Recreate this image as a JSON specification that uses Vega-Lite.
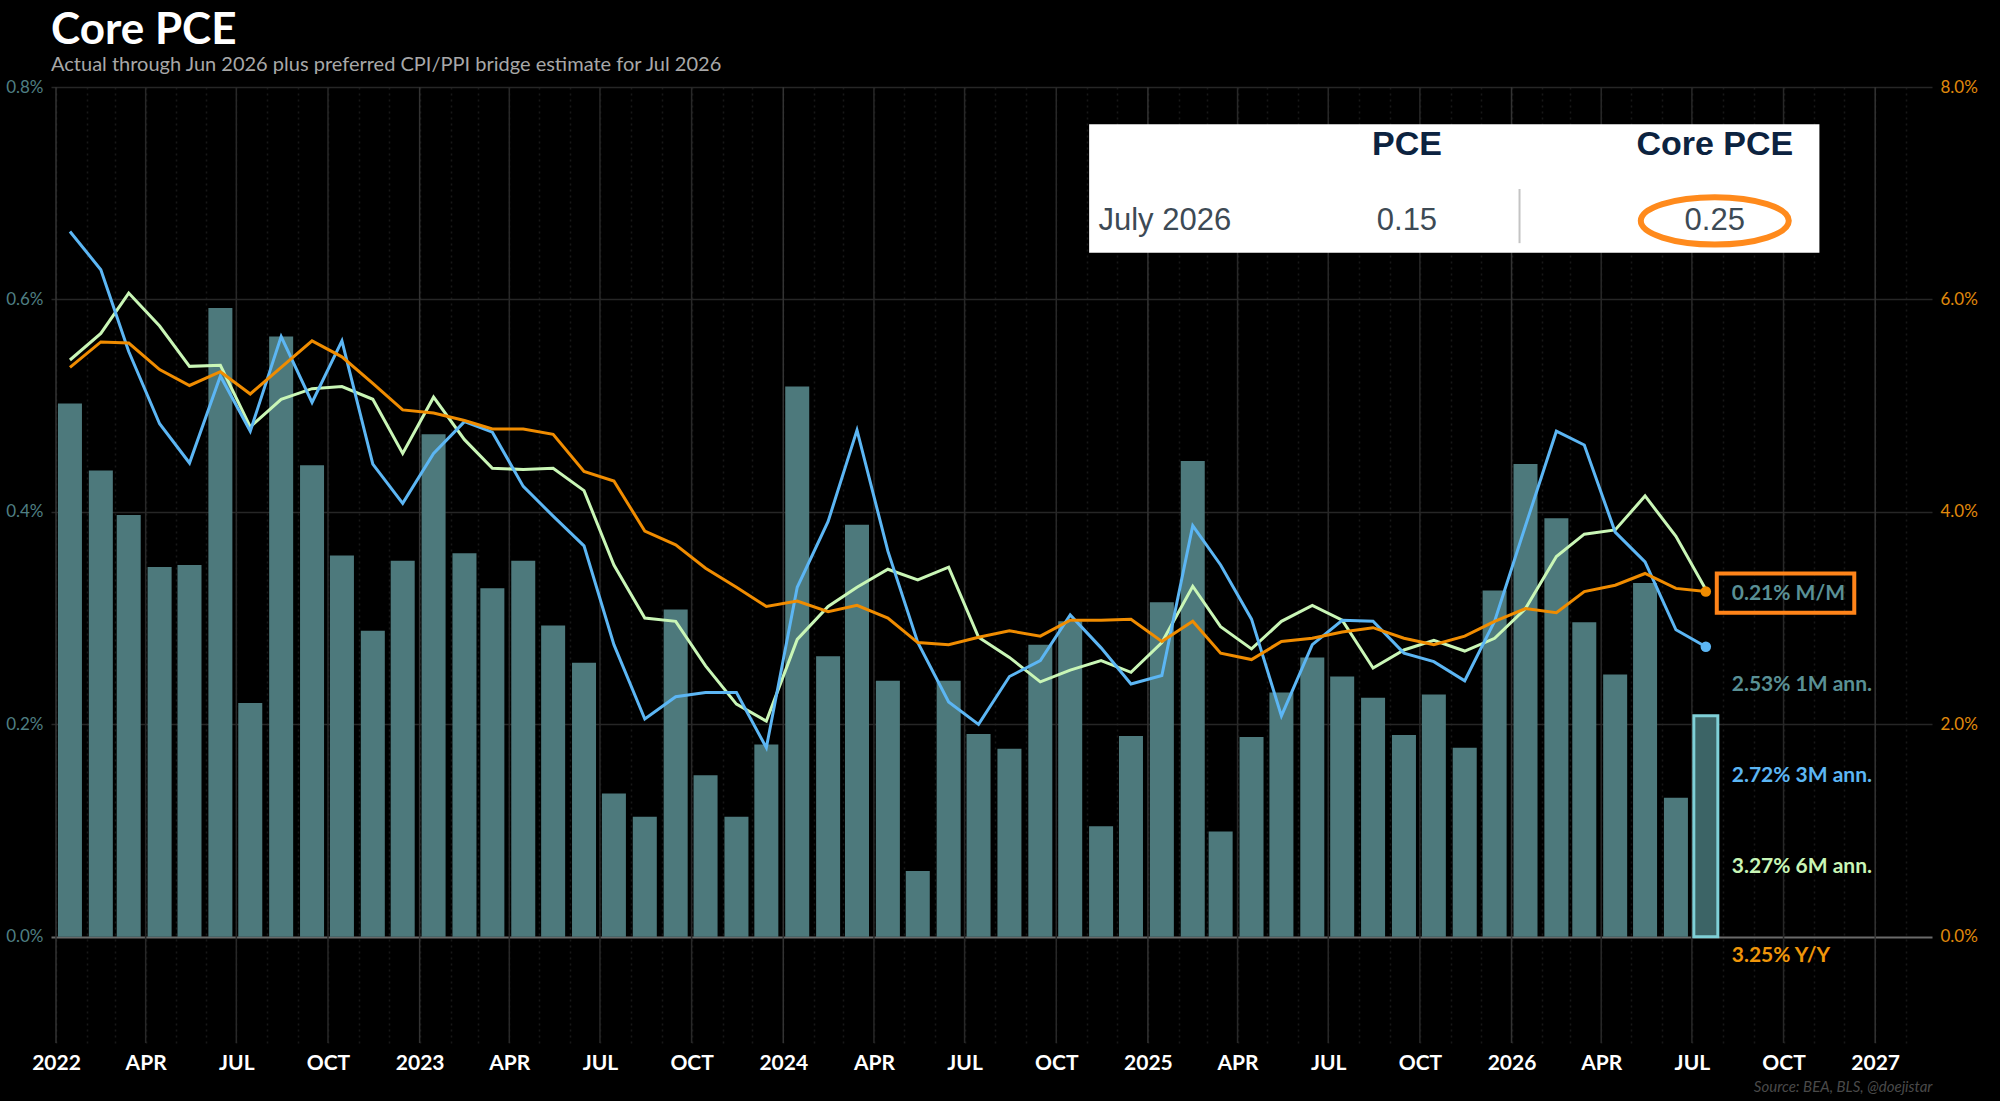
{
  "$schema": "https://vega.github.io/schema/vega-lite/v6.json",
  "width": 1881,
  "height": 956,
  "autosize": {"type": "none"},
  "padding": {"left": 51, "top": 87, "right": 68, "bottom": 58},
  "background": "#000000",
  "title": {
    "text": "Core PCE",
    "subtitle": "Actual through Jun 2026 plus preferred CPI/PPI bridge estimate for Jul 2026",
    "anchor": "start",
    "frame": "group",
    "font": "Lato",
    "fontSize": 44,
    "fontWeight": "bold",
    "color": "#ffffff",
    "subtitleFont": "Lato",
    "subtitleFontSize": 20,
    "subtitleColor": "#a8a8a8",
    "subtitlePadding": 2,
    "offset": 3
  },
  "datasets": {
    "pce": [
      {"d": "2022-01-15", "bar": 0.502, "m3": 6.64, "m6": 5.43, "yoy": 5.36, "type": "act"},
      {"d": "2022-02-15", "bar": 0.439, "m3": 6.28, "m6": 5.68, "yoy": 5.60, "type": "act"},
      {"d": "2022-03-15", "bar": 0.397, "m3": 5.51, "m6": 6.06, "yoy": 5.59, "type": "act"},
      {"d": "2022-04-15", "bar": 0.348, "m3": 4.83, "m6": 5.75, "yoy": 5.34, "type": "act"},
      {"d": "2022-05-15", "bar": 0.350, "m3": 4.46, "m6": 5.37, "yoy": 5.19, "type": "act"},
      {"d": "2022-06-15", "bar": 0.592, "m3": 5.28, "m6": 5.38, "yoy": 5.32, "type": "act"},
      {"d": "2022-07-15", "bar": 0.220, "m3": 4.76, "m6": 4.80, "yoy": 5.11, "type": "act"},
      {"d": "2022-08-15", "bar": 0.565, "m3": 5.65, "m6": 5.06, "yoy": 5.36, "type": "act"},
      {"d": "2022-09-15", "bar": 0.444, "m3": 5.03, "m6": 5.16, "yoy": 5.61, "type": "act"},
      {"d": "2022-10-15", "bar": 0.359, "m3": 5.61, "m6": 5.18, "yoy": 5.46, "type": "act"},
      {"d": "2022-11-15", "bar": 0.288, "m3": 4.45, "m6": 5.06, "yoy": 5.21, "type": "act"},
      {"d": "2022-12-15", "bar": 0.354, "m3": 4.08, "m6": 4.55, "yoy": 4.96, "type": "act"},
      {"d": "2023-01-15", "bar": 0.473, "m3": 4.55, "m6": 5.08, "yoy": 4.93, "type": "act"},
      {"d": "2023-02-15", "bar": 0.361, "m3": 4.85, "m6": 4.68, "yoy": 4.86, "type": "act"},
      {"d": "2023-03-15", "bar": 0.328, "m3": 4.75, "m6": 4.41, "yoy": 4.78, "type": "act"},
      {"d": "2023-04-15", "bar": 0.354, "m3": 4.24, "m6": 4.40, "yoy": 4.78, "type": "act"},
      {"d": "2023-05-15", "bar": 0.293, "m3": 3.96, "m6": 4.41, "yoy": 4.73, "type": "act"},
      {"d": "2023-06-15", "bar": 0.258, "m3": 3.68, "m6": 4.20, "yoy": 4.38, "type": "act"},
      {"d": "2023-07-15", "bar": 0.135, "m3": 2.75, "m6": 3.50, "yoy": 4.29, "type": "act"},
      {"d": "2023-08-15", "bar": 0.113, "m3": 2.05, "m6": 3.00, "yoy": 3.82, "type": "act"},
      {"d": "2023-09-15", "bar": 0.308, "m3": 2.26, "m6": 2.97, "yoy": 3.69, "type": "act"},
      {"d": "2023-10-15", "bar": 0.152, "m3": 2.30, "m6": 2.55, "yoy": 3.47, "type": "act"},
      {"d": "2023-11-15", "bar": 0.113, "m3": 2.30, "m6": 2.19, "yoy": 3.29, "type": "act"},
      {"d": "2023-12-15", "bar": 0.181, "m3": 1.78, "m6": 2.03, "yoy": 3.11, "type": "act"},
      {"d": "2024-01-15", "bar": 0.518, "m3": 3.29, "m6": 2.80, "yoy": 3.16, "type": "act"},
      {"d": "2024-02-15", "bar": 0.264, "m3": 3.91, "m6": 3.11, "yoy": 3.06, "type": "act"},
      {"d": "2024-03-15", "bar": 0.388, "m3": 4.77, "m6": 3.29, "yoy": 3.12, "type": "act"},
      {"d": "2024-04-15", "bar": 0.241, "m3": 3.63, "m6": 3.46, "yoy": 3.00, "type": "act"},
      {"d": "2024-05-15", "bar": 0.062, "m3": 2.77, "m6": 3.36, "yoy": 2.77, "type": "act"},
      {"d": "2024-06-15", "bar": 0.241, "m3": 2.21, "m6": 3.48, "yoy": 2.75, "type": "act"},
      {"d": "2024-07-15", "bar": 0.191, "m3": 2.00, "m6": 2.82, "yoy": 2.82, "type": "act"},
      {"d": "2024-08-15", "bar": 0.177, "m3": 2.45, "m6": 2.63, "yoy": 2.88, "type": "act"},
      {"d": "2024-09-15", "bar": 0.275, "m3": 2.60, "m6": 2.40, "yoy": 2.83, "type": "act"},
      {"d": "2024-10-15", "bar": 0.297, "m3": 3.03, "m6": 2.51, "yoy": 2.98, "type": "act"},
      {"d": "2024-11-15", "bar": 0.104, "m3": 2.72, "m6": 2.60, "yoy": 2.98, "type": "act"},
      {"d": "2024-12-15", "bar": 0.189, "m3": 2.38, "m6": 2.49, "yoy": 2.99, "type": "act"},
      {"d": "2025-01-15", "bar": 0.315, "m3": 2.46, "m6": 2.77, "yoy": 2.78, "type": "act"},
      {"d": "2025-02-15", "bar": 0.448, "m3": 3.87, "m6": 3.30, "yoy": 2.97, "type": "act"},
      {"d": "2025-03-15", "bar": 0.099, "m3": 3.50, "m6": 2.92, "yoy": 2.67, "type": "act"},
      {"d": "2025-04-15", "bar": 0.188, "m3": 2.99, "m6": 2.71, "yoy": 2.61, "type": "act"},
      {"d": "2025-05-15", "bar": 0.230, "m3": 2.08, "m6": 2.97, "yoy": 2.78, "type": "act"},
      {"d": "2025-06-15", "bar": 0.263, "m3": 2.75, "m6": 3.12, "yoy": 2.81, "type": "act"},
      {"d": "2025-07-15", "bar": 0.245, "m3": 2.98, "m6": 2.98, "yoy": 2.87, "type": "act"},
      {"d": "2025-08-15", "bar": 0.225, "m3": 2.97, "m6": 2.53, "yoy": 2.91, "type": "act"},
      {"d": "2025-09-15", "bar": 0.190, "m3": 2.67, "m6": 2.70, "yoy": 2.81, "type": "act"},
      {"d": "2025-10-15", "bar": 0.228, "m3": 2.59, "m6": 2.79, "yoy": 2.75, "type": "act"},
      {"d": "2025-11-15", "bar": 0.178, "m3": 2.41, "m6": 2.69, "yoy": 2.83, "type": "act"},
      {"d": "2025-12-15", "bar": 0.326, "m3": 2.97, "m6": 2.81, "yoy": 2.97, "type": "act"},
      {"d": "2026-01-15", "bar": 0.445, "m3": 3.87, "m6": 3.09, "yoy": 3.09, "type": "act"},
      {"d": "2026-02-15", "bar": 0.394, "m3": 4.76, "m6": 3.58, "yoy": 3.05, "type": "act"},
      {"d": "2026-03-15", "bar": 0.296, "m3": 4.63, "m6": 3.79, "yoy": 3.25, "type": "act"},
      {"d": "2026-04-15", "bar": 0.247, "m3": 3.81, "m6": 3.83, "yoy": 3.31, "type": "act"},
      {"d": "2026-05-15", "bar": 0.333, "m3": 3.53, "m6": 4.15, "yoy": 3.42, "type": "act"},
      {"d": "2026-06-15", "bar": 0.131, "m3": 2.89, "m6": 3.77, "yoy": 3.28, "type": "act"},
      {"d": "2026-07-15", "bar": 0.208, "m3": 2.73, "m6": 3.27, "yoy": 3.25, "type": "est"}
    ],
    "grid": [
      {"d": "2022-01-01", "kind": "year"}, {"d": "2022-04-01", "kind": "quarter"}, {"d": "2022-07-01", "kind": "quarter"}, {"d": "2022-10-01", "kind": "quarter"},
      {"d": "2023-01-01", "kind": "year"}, {"d": "2023-04-01", "kind": "quarter"}, {"d": "2023-07-01", "kind": "quarter"}, {"d": "2023-10-01", "kind": "quarter"},
      {"d": "2024-01-01", "kind": "year"}, {"d": "2024-04-01", "kind": "quarter"}, {"d": "2024-07-01", "kind": "quarter"}, {"d": "2024-10-01", "kind": "quarter"},
      {"d": "2025-01-01", "kind": "year"}, {"d": "2025-04-01", "kind": "quarter"}, {"d": "2025-07-01", "kind": "quarter"}, {"d": "2025-10-01", "kind": "quarter"},
      {"d": "2026-01-01", "kind": "year"}, {"d": "2026-04-01", "kind": "quarter"}, {"d": "2026-07-01", "kind": "quarter"}, {"d": "2026-10-01", "kind": "quarter"},
      {"d": "2027-01-01", "kind": "year"}
    ],
    "notes": [
      {"t": "0.21% M/M", "v": 3.23, "k": "mm"},
      {"t": "2.53% 1M ann.", "v": 2.37, "k": "1m"},
      {"t": "2.72% 3M ann.", "v": 1.51, "k": "3m"},
      {"t": "3.27% 6M ann.", "v": 0.66, "k": "6m"},
      {"t": "3.25% Y/Y", "v": -0.18, "k": "yoy"}
    ],
    "tableHead": [
      {"t": "PCE", "d": "2025-09-18"},
      {"t": "Core PCE", "d": "2026-07-24"}
    ],
    "tableBody": [
      {"t": "July 2026", "d": "2025-01-18"},
      {"t": "0.15", "d": "2025-09-18"},
      {"t": "0.25", "d": "2026-07-24"}
    ]
  },
  "layer": [
    {
      "data": {"name": "grid"},
      "mark": {"type": "rule", "strokeWidth": 1.5},
      "encoding": {
        "x": {
          "field": "d",
          "type": "temporal",
          "scale": {
            "type": "utc",
            "domain": [
              {"year": 2022, "month": 1, "date": 1, "utc": true},
              {"year": 2027, "month": 2, "date": 22, "utc": true}
            ]
          },
          "axis": {
            "title": "Source: BEA, BLS, @doejistar",
            "titleAnchor": "end",
            "titleFont": "Lato",
            "titleFontSize": 15,
            "titleFontStyle": "italic",
            "titleFontWeight": "normal",
            "titleColor": "#4a4a4a",
            "titlePadding": 6,
            "tickCount": 62,
            "labelExpr": "utcmonth(datum.value) === 0 ? utcFormat(datum.value, '%Y') : (utcmonth(datum.value) % 3 === 0 ? upper(utcFormat(datum.value, '%b')) : '')",
            "labelFont": "Lato",
            "labelFontSize": 21,
            "labelFontWeight": "bold",
            "labelColor": "#ffffff",
            "labelPadding": 9,
            "labelFlush": false,
            "labelOverlap": false,
            "domain": false,
            "ticks": false,
            "grid": true,
            "gridColor": "#181818",
            "gridDash": [2, 4],
            "gridWidth": 1.5
          }
        },
        "color": {
          "condition": {"test": "datum.kind === 'year'", "value": "#333333"},
          "value": "#282828"
        }
      }
    },
    {
      "data": {"name": "pce"},
      "mark": {"type": "bar", "width": 24, "stroke": "#7fd0d7", "strokeWidth": 3},
      "encoding": {
        "x": {"field": "d", "type": "temporal"},
        "y": {
          "field": "bar",
          "type": "quantitative",
          "scale": {"domain": [-0.1, 0.8], "nice": false, "zero": false},
          "axis": {
            "orient": "left",
            "title": null,
            "values": [0, 0.2, 0.4, 0.6, 0.8],
            "labelExpr": "format(datum.value, '.1f') + '%'",
            "labelFont": "Lato",
            "labelFontSize": 17,
            "labelColor": "#4f7f83",
            "labelPadding": 8,
            "domain": false,
            "ticks": false,
            "grid": true,
            "gridColor": {
              "condition": {"test": "datum.value === 0", "value": "#6a6a6a"},
              "value": "#262626"
            },
            "gridWidth": {
              "condition": {"test": "datum.value === 0", "value": 2},
              "value": 1.5
            }
          }
        },
        "y2": {"datum": 0},
        "fill": {
          "condition": {"test": "datum.type === 'est'", "value": "#3c6466"},
          "value": "#4d797c"
        },
        "strokeOpacity": {
          "condition": {"test": "datum.type === 'est'", "value": 1},
          "value": 0
        }
      }
    },
    {
      "data": {"values": [{}]},
      "mark": {"type": "rect", "color": "#ffffff"},
      "encoding": {
        "x": {"datum": {"year": 2024, "month": 11, "date": 3, "utc": true}, "type": "temporal"},
        "x2": {"datum": {"year": 2026, "month": 11, "date": 6, "utc": true}},
        "y": {"datum": 0.765, "type": "quantitative", "scale": {"domain": [-0.1, 0.8], "nice": false, "zero": false}, "axis": null},
        "y2": {"datum": 0.644}
      }
    },
    {
      "data": {"name": "tableHead"},
      "mark": {"type": "text", "font": "Liberation Sans", "fontSize": 34, "fontWeight": "bold", "color": "#0c2340", "align": "center", "baseline": "middle"},
      "encoding": {
        "x": {"field": "d", "type": "temporal"},
        "y": {"datum": 0.745, "type": "quantitative", "scale": {"domain": [-0.1, 0.8], "nice": false, "zero": false}, "axis": null},
        "text": {"field": "t"}
      }
    },
    {
      "data": {"name": "tableBody"},
      "mark": {"type": "text", "font": "Liberation Sans", "fontSize": 31, "color": "#3d4a55", "align": "center", "baseline": "middle"},
      "encoding": {
        "x": {"field": "d", "type": "temporal"},
        "y": {"datum": 0.674, "type": "quantitative", "scale": {"domain": [-0.1, 0.8], "nice": false, "zero": false}, "axis": null},
        "text": {"field": "t"}
      }
    },
    {
      "data": {"values": [{}]},
      "mark": {"type": "rule", "color": "#c4c4c4", "strokeWidth": 2},
      "encoding": {
        "x": {"datum": {"year": 2026, "month": 1, "date": 9, "utc": true}, "type": "temporal"},
        "y": {"datum": 0.704, "type": "quantitative", "scale": {"domain": [-0.1, 0.8], "nice": false, "zero": false}, "axis": null},
        "y2": {"datum": 0.653}
      }
    },
    {
      "data": {"values": [{}]},
      "mark": {
        "type": "point",
        "shape": "M -1 0 A 1 0.32 0 1 0 1 0 A 1 0.32 0 1 0 -1 0 Z",
        "size": 21904,
        "filled": false,
        "strokeWidth": 6,
        "color": "#ff8a1c",
        "opacity": 1
      },
      "encoding": {
        "x": {"datum": {"year": 2026, "month": 7, "date": 24, "utc": true}, "type": "temporal"},
        "y": {"datum": 0.674, "type": "quantitative", "scale": {"domain": [-0.1, 0.8], "nice": false, "zero": false}, "axis": null}
      }
    },
    {
      "data": {"name": "pce"},
      "mark": {"type": "line", "color": "#c9f6b6", "strokeWidth": 3},
      "encoding": {
        "x": {"field": "d", "type": "temporal"},
        "y": {
          "field": "m6",
          "type": "quantitative",
          "scale": {"domain": [-1, 8], "nice": false, "zero": false},
          "axis": {
            "orient": "right",
            "title": null,
            "values": [0, 2, 4, 6, 8],
            "labelExpr": "format(datum.value, '.1f') + '%'",
            "labelFont": "Lato",
            "labelFontSize": 17,
            "labelColor": "#e08a0c",
            "labelPadding": 8,
            "domain": false,
            "ticks": false,
            "grid": false
          }
        }
      }
    },
    {
      "data": {"name": "pce"},
      "mark": {"type": "line", "color": "#5cb6f4", "strokeWidth": 3},
      "encoding": {
        "x": {"field": "d", "type": "temporal"},
        "y": {"field": "m3", "type": "quantitative", "scale": {"domain": [-1, 8], "nice": false, "zero": false}, "axis": null}
      }
    },
    {
      "data": {"name": "pce"},
      "mark": {"type": "line", "color": "#f08c00", "strokeWidth": 3},
      "encoding": {
        "x": {"field": "d", "type": "temporal"},
        "y": {"field": "yoy", "type": "quantitative", "scale": {"domain": [-1, 8], "nice": false, "zero": false}, "axis": null}
      }
    },
    {
      "data": {"name": "pce"},
      "transform": [{"filter": "datum.type === 'est'"}],
      "mark": {"type": "circle", "size": 110, "color": "#5cb6f4", "opacity": 1},
      "encoding": {
        "x": {"field": "d", "type": "temporal"},
        "y": {"field": "m3", "type": "quantitative", "scale": {"domain": [-1, 8], "nice": false, "zero": false}, "axis": null}
      }
    },
    {
      "data": {"name": "pce"},
      "transform": [{"filter": "datum.type === 'est'"}],
      "mark": {"type": "circle", "size": 110, "color": "#f08c00", "opacity": 1},
      "encoding": {
        "x": {"field": "d", "type": "temporal"},
        "y": {"field": "yoy", "type": "quantitative", "scale": {"domain": [-1, 8], "nice": false, "zero": false}, "axis": null}
      }
    },
    {
      "data": {"values": [{}]},
      "mark": {"type": "rect", "fillOpacity": 0, "stroke": "#ff8419", "strokeWidth": 4},
      "encoding": {
        "x": {"datum": {"year": 2026, "month": 7, "date": 26, "utc": true}, "type": "temporal"},
        "x2": {"datum": {"year": 2026, "month": 12, "date": 11, "utc": true}},
        "y": {"datum": 3.42, "type": "quantitative", "scale": {"domain": [-1, 8], "nice": false, "zero": false}, "axis": null},
        "y2": {"datum": 3.05}
      }
    },
    {
      "data": {"name": "notes"},
      "mark": {"type": "text", "font": "Lato", "fontSize": 21, "fontWeight": "bold", "align": "left", "baseline": "middle"},
      "encoding": {
        "x": {"datum": {"year": 2026, "month": 8, "date": 10, "utc": true}, "type": "temporal"},
        "y": {"field": "v", "type": "quantitative", "scale": {"domain": [-1, 8], "nice": false, "zero": false}, "axis": null},
        "text": {"field": "t"},
        "color": {
          "field": "k",
          "type": "nominal",
          "scale": {
            "domain": ["mm", "1m", "3m", "6m", "yoy"],
            "range": ["#5a9095", "#5a9095", "#5cb6f4", "#c9f6b6", "#f0960a"]
          },
          "legend": null
        }
      }
    }
  ],
  "resolve": {"scale": {"y": "independent"}},
  "config": {"view": {"stroke": null}, "font": "Lato"}
}
